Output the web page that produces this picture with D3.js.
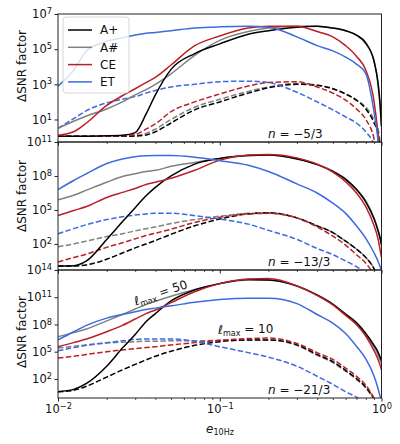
<!DOCTYPE html>
<html>
<head>
<meta charset="utf-8">
<script src="https://cdn.jsdelivr.net/npm/d3@7"></script>
<style>
  body { margin: 0; background: #fff; }
  text { font-family: "DejaVu Sans", sans-serif; fill: #111; }
</style>
</head>
<body>
<svg id="chart"></svg>
<script>
var width = 400;
var height = 444;
var left = 58;
var right = 381.5;
var panelTop = [14, 142, 270];
var panelH = 128;

// eccentricity at 10 Hz, shared by every curve
var ecc = [0.01, 0.0125, 0.015, 0.02, 0.025, 0.03, 0.035, 0.04, 0.05, 0.07, 0.1,
           0.15, 0.2, 0.3, 0.4, 0.5, 0.6, 0.7, 0.8, 0.9, 0.95, 0.98, 1.0];

var detectors = ["A+", "A#", "CE", "ET"];

// values below are log10(ΔSNR factor), rows: A+, A#, CE, ET
// n = -5/3, lmax = 50 (solid)
var n1Solid = [
  [0.05, 0.05, 0.05, 0.07, 0.1, 0.25, 1.3, 2.4, 3.85, 4.75, 5.3, 5.85, 6.05, 6.25, 6.3, 6.2, 6.05, 5.8, 5.35, 4.3, 3.1, 1.8, 0.6],
  [0.5, 0.9, 1.2, 1.6, 2.0, 2.4, 2.7, 3.0, 3.6, 4.65, 5.5, 6.0, 6.2, 6.3, 6.3, 6.2, 6.05, 5.8, 5.3, 4.3, 3.2, 2.0, 0.6],
  [0.1, 0.3, 0.8, 1.8, 2.35, 2.75, 3.1, 3.4, 4.1, 5.2, 5.75, 6.2, 6.3, 6.3, 6.0, 5.7, 5.2, 4.6, 3.8, 2.0, 0.2, -1.5, -3],
  [2.9, 3.8, 4.9, 5.45, 5.65, 5.8, 5.9, 5.95, 6.05, 6.2, 6.27, 6.3, 6.25, 5.7, 5.2, 4.9, 4.55, 4.15, 3.6, 1.4, -0.1, -1.5, -3]
];
// n = -5/3, lmax = 10 (dashed)
var n1Dashed = [
  [0.05, 0.05, 0.05, 0.05, 0.05, 0.06, 0.12, 0.3, 0.8, 1.55, 2.0, 2.5, 2.8, 3.0, 2.95, 2.75, 2.45, 2.1, 1.6, 0.8, 0.2, -0.8, -2],
  [0.05, 0.05, 0.05, 0.05, 0.05, 0.08, 0.2, 0.45, 1.0, 1.7, 2.15, 2.6, 2.85, 3.05, 2.95, 2.75, 2.45, 2.1, 1.7, 1.0, 0.5, -0.3, -1.5],
  [0.05, 0.05, 0.05, 0.05, 0.07, 0.15, 0.45, 0.75, 1.45, 2.0, 2.45, 2.9, 3.1, 3.15, 2.85, 2.5, 2.1, 1.6, 1.0, -0.1, -1.2, -2.5, -3],
  [0.5, 1.05, 1.5, 1.95, 2.15, 2.3, 2.5, 2.65, 2.85, 3.0, 3.15, 3.18, 3.1, 2.55, 2.0, 1.55, 1.15, 0.8, 0.3, -0.4, -1.0, -2, -3]
];
// n = -13/3
var n2Solid = [
  [0.05, 0.08, 0.5, 2.4, 3.95, 5.2, 6.25, 7.0, 8.0, 9.05, 9.55, 9.8, 9.85, 9.5, 9.0, 8.4, 7.7, 6.8, 5.7, 4.2, 3.2, 2.5, 1.9],
  [5.9, 6.3, 6.75, 7.45, 7.95, 8.2, 8.4, 8.5, 8.85, 9.2, 9.55, 9.8, 9.85, 9.55, 9.05, 8.45, 7.75, 6.85, 5.8, 4.3, 3.3, 2.6, 2.0],
  [4.5, 4.95, 5.3, 6.1, 6.55, 6.9, 7.25, 7.45, 7.8, 8.5, 9.4, 9.85, 9.9, 9.6, 9.05, 8.35, 7.5, 6.5, 5.3, 3.6, 2.5, 1.5, 0.8],
  [6.8, 7.6, 8.2, 9.1, 9.5, 9.7, 9.78, 9.8, 9.8, 9.65, 9.35, 8.95, 8.4, 7.3, 6.5, 5.6, 4.7, 3.6, 2.5, 1.2, 0.5, 0.0, -0.4]
];
var n2Dashed = [
  [0.05, 0.05, 0.15, 0.65, 1.2, 1.65, 2.0, 2.3, 2.85, 3.6, 4.2, 4.65, 4.75, 4.3, 3.6, 3.0, 2.25, 1.55, 0.8, -0.2, -1.0, -2, -3],
  [1.75, 2.0, 2.25, 2.65, 2.9, 3.15, 3.35, 3.5, 3.8, 4.15, 4.45, 4.7, 4.75, 4.3, 3.6, 3.0, 2.25, 1.55, 0.8, -0.2, -1.0, -2, -3],
  [0.4, 0.8, 1.1, 1.7, 2.1, 2.45, 2.75, 2.95, 3.3, 3.9, 4.35, 4.65, 4.7, 4.3, 3.5, 2.7, 1.9, 1.05, 0.3, -0.8, -1.6, -2.5, -3.5],
  [2.9, 3.35, 3.7, 4.15, 4.4, 4.55, 4.65, 4.7, 4.72, 4.5, 4.2, 3.75, 3.2, 2.4, 1.6, 1.05, 0.5, 0.0, -0.6, -1.5, -2.5, -3.5, -4.5]
];
// n = -21/3
var n3Solid = [
  [0.6, 0.85, 1.5, 3.4, 5.4, 6.9, 8.3, 9.2, 10.6, 11.8, 12.5, 12.95, 12.9, 12.25, 11.25, 10.25, 9.15, 8.2, 7.0, 5.7, 5.0, 4.4, 4.0],
  [6.65, 7.1, 7.5, 8.4, 9.1, 9.7, 10.2, 10.55, 11.1, 11.85, 12.5, 12.9, 12.9, 12.2, 11.2, 10.2, 9.1, 8.1, 6.9, 5.5, 4.7, 4.1, 3.7],
  [5.55, 6.0, 6.4, 7.2, 7.9, 8.6, 9.2, 9.6, 10.4, 11.6, 12.5, 13.0, 13.05, 12.25, 11.2, 10.15, 9.0, 8.0, 6.7, 5.1, 4.2, 3.5, 3.0],
  [6.3, 7.2, 7.9, 8.7, 9.1, 9.4, 9.65, 9.8, 10.05, 10.45, 10.75, 10.9, 10.9, 10.3, 9.1, 8.15, 7.0, 5.6, 4.2, 2.3, 1.0, 0.1, -0.5]
];
var n3Dashed = [
  [0.6, 0.75, 1.2, 2.2, 3.0, 3.6, 4.1, 4.5, 5.05, 5.7, 6.1, 6.3, 6.3, 5.75, 4.7, 3.9, 2.95, 2.05, 1.1, -0.2, -1.0, -1.8, -2.5],
  [5.4, 5.6, 5.75, 5.95, 6.05, 6.1, 6.15, 6.15, 6.2, 6.2, 6.25, 6.3, 6.3, 5.7, 4.6, 3.8, 2.85, 1.95, 1.0, -0.3, -1.0, -1.8, -2.5],
  [4.3, 4.5, 4.7, 5.0, 5.2, 5.35, 5.45, 5.55, 5.75, 6.0, 6.25, 6.45, 6.5, 5.9, 4.9, 4.15, 3.2, 2.3, 1.3, -0.1, -0.9, -1.7, -2.5],
  [5.1, 5.45, 5.7, 6.0, 6.2, 6.35, 6.4, 6.4, 6.4, 6.15, 5.55, 4.9, 4.4, 3.4, 2.3, 1.4, 0.6, 0.0, -0.6, -1.3, -1.8, -2.3, -3]
];

var panelSolid = [n1Solid, n2Solid, n3Solid];
var panelDashed = [n1Dashed, n2Dashed, n3Dashed];
var yDomainExp = [[-0.28, 7], [-0.3, 11], [-0.1, 14]];
var yTickExp = [[1, 3, 5, 7], [2, 5, 8, 11], [2, 5, 8, 11, 14]];
var nLabels = ["\u22125/3", "\u221213/3", "\u221221/3"];
var xTickExp = [-2, -1, 0];

var colors = { "A+": "#000000", "A#": "#808080", "CE": "#bb2026", "ET": "#3d6ae0" };
var drawOrder = [1, 0, 2, 3];

var svg = d3.select("#chart")
            .attr("width", width)
            .attr("height", height);

var xScale = d3.scaleLog()
               .domain([0.01, 1])
               .range([left, right]);

var minorX = [];
[0.01, 0.1].forEach(function (b) {
  for (var k = 2; k <= 9; k++) minorX.push(b * k);
});

function supLabel(sel, exp) {
  sel.text("");
  sel.append("tspan").text("10");
  sel.append("tspan")
     .attr("dy", "-0.5em")
     .attr("font-size", "0.72em")
     .text(String(exp).replace("-", "\u2212"));
}

var line = d3.line().curve(d3.curveMonotoneX);

panelTop.forEach(function (top, p) {
  var yScale = d3.scaleLog()
                 .domain([Math.pow(10, yDomainExp[p][0]), Math.pow(10, yDomainExp[p][1])])
                 .range([top + panelH, top]);

  var g = svg.append("g");

  svg.append("clipPath")
      .attr("id", "clip" + p)
    .append("rect")
      .attr("x", left)
      .attr("y", top)
      .attr("width", right - left)
      .attr("height", panelH);

  var lines = g.append("g").attr("clip-path", "url(#clip" + p + ")");

  line.x(function (d, i) { return xScale(ecc[i]); })
      .y(function (d) { return yScale(Math.pow(10, d)); });

  drawOrder.forEach(function (k) {
    lines.append("path")
        .attr("d", line(panelDashed[p][k]))
        .attr("fill", "none")
        .attr("stroke", colors[detectors[k]])
        .attr("stroke-width", 1.5)
        .attr("stroke-dasharray", "5.5,2.4");
  });
  drawOrder.forEach(function (k) {
    lines.append("path")
        .attr("d", line(panelSolid[p][k]))
        .attr("fill", "none")
        .attr("stroke", colors[detectors[k]])
        .attr("stroke-width", 1.5);
  });

  // y axis
  var yAxis = d3.axisLeft(yScale)
                .tickValues(yTickExp[p].map(function (e) { return Math.pow(10, e); }))
                .tickSize(3.5)
                .tickPadding(2.5)
                .tickSizeOuter(0);
  var ya = g.append("g")
      .attr("transform", "translate(" + left + ",0)")
      .call(yAxis);
  ya.select(".domain").remove();
  ya.selectAll(".tick text")
      .attr("font-size", "11.5px")
      .attr("font-family", "DejaVu Sans")
      .attr("fill", "#111")
      .each(function (d, i) { supLabel(d3.select(this), yTickExp[p][i]); });
  ya.selectAll(".tick line").attr("stroke", "#222");

  // x axis ticks
  var xAxis = d3.axisBottom(xScale)
                .tickValues(xTickExp.map(function (e) { return Math.pow(10, e); }))
                .tickSize(3.5)
                .tickPadding(3)
                .tickSizeOuter(0);
  var xa = g.append("g")
      .attr("transform", "translate(0," + (top + panelH) + ")")
      .call(xAxis);
  xa.select(".domain").remove();
  xa.selectAll(".tick line").attr("stroke", "#222");
  if (p === 2) {
    xa.selectAll(".tick text")
        .attr("font-size", "11.5px")
        .attr("font-family", "DejaVu Sans")
        .attr("fill", "#111")
        .each(function (d, i) { supLabel(d3.select(this), xTickExp[i]); });
  } else {
    xa.selectAll(".tick text").remove();
  }
  var xm = g.append("g")
      .attr("transform", "translate(0," + (top + panelH) + ")")
      .call(d3.axisBottom(xScale).tickValues(minorX).tickSize(2).tickFormat("").tickSizeOuter(0));
  xm.select(".domain").remove();
  xm.selectAll(".tick line").attr("stroke", "#222").attr("stroke-width", 0.8);

  // frame
  g.append("rect")
      .attr("x", left)
      .attr("y", top)
      .attr("width", right - left)
      .attr("height", panelH)
      .attr("fill", "none")
      .attr("stroke", "#222")
      .attr("stroke-width", 1);

  // n label
  var nt = g.append("text")
      .attr("x", 268)
      .attr("y", top + panelH - 4)
      .attr("font-size", "12px");
  nt.append("tspan").attr("font-style", "italic").text("n");
  nt.append("tspan").text(" = " + nLabels[p]);
});

// y labels
[66, 196, 332].forEach(function (cy) {
  svg.append("text")
      .attr("transform", "translate(26," + cy + ") rotate(-90)")
      .attr("text-anchor", "middle")
      .attr("font-size", "12px")
      .text("\u0394SNR factor");
});

// x label
var xl = svg.append("text")
    .attr("x", 220)
    .attr("y", 433)
    .attr("text-anchor", "middle")
    .attr("font-size", "12px");
xl.append("tspan").attr("font-style", "italic").text("e");
xl.append("tspan").attr("font-size", "8px").attr("dy", "0.3em").text("10Hz");

// lmax annotations
var l50 = svg.append("text")
    .attr("transform", "translate(162,297) rotate(-18)")
    .attr("text-anchor", "middle")
    .attr("font-size", "12px");
l50.append("tspan").text("\u2113");
l50.append("tspan").attr("font-size", "8px").attr("dy", "0.3em").text("max");
l50.append("tspan").attr("dy", "-0.25em").text(" = 50");

var l10 = svg.append("text")
    .attr("x", 218)
    .attr("y", 334)
    .attr("font-size", "12px");
l10.append("tspan").text("\u2113");
l10.append("tspan").attr("font-size", "8px").attr("dy", "0.3em").text("max");
l10.append("tspan").attr("dy", "-0.25em").text(" = 10");

// legend
var leg = svg.append("g");
leg.append("rect")
    .attr("x", 63)
    .attr("y", 17)
    .attr("width", 66)
    .attr("height", 76)
    .attr("rx", 3)
    .attr("fill", "#fff")
    .attr("fill-opacity", 0.8)
    .attr("stroke", "#cccccc")
    .attr("stroke-width", 0.8);
detectors.forEach(function (name, i) {
  var y = 30 + i * 17.3;
  leg.append("line")
      .attr("x1", 68)
      .attr("x2", 92)
      .attr("y1", y)
      .attr("y2", y)
      .attr("stroke", colors[name])
      .attr("stroke-width", 1.5);
  leg.append("text")
      .attr("x", 100)
      .attr("y", y)
      .attr("dy", "0.36em")
      .attr("font-size", "12px")
      .text(name);
});
</script>
</body>
</html>
